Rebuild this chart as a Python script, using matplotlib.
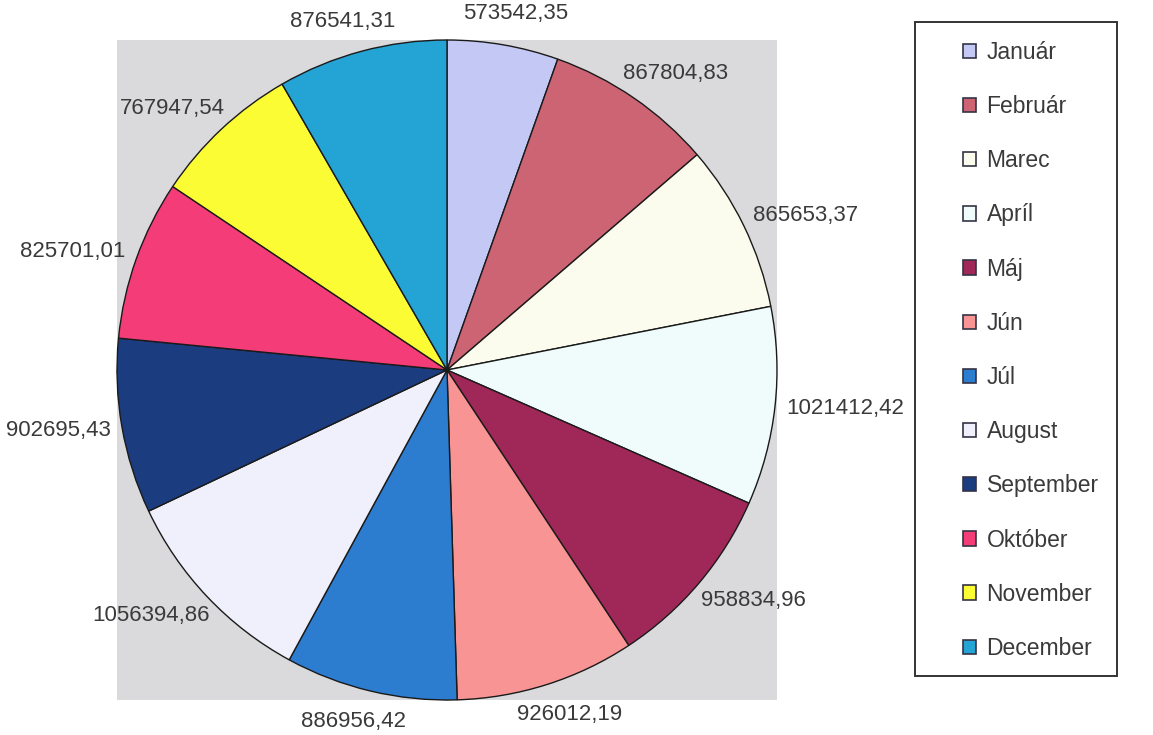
#!/usr/bin/env python3
"""Monthly totals as a pie chart with value labels and a month legend."""

import numpy as np
import matplotlib
matplotlib.use("Agg")
import matplotlib.pyplot as plt
import matplotlib.transforms as mtransforms
from matplotlib.patches import Rectangle

months = ["Január", "Február", "Marec", "Apríl", "Máj", "Jún",
          "Júl", "August", "September", "Október", "November", "December"]
values = [573542.35, 867804.83, 865653.37, 1021412.42, 958834.96, 926012.19,
          886956.42, 1056394.86, 902695.43, 825701.01, 767947.54, 876541.31]
colors = ["#c4c8f4", "#cc6474", "#fcfcee", "#f0fcfc", "#a02858", "#f89494",
          "#2c7cd0", "#f0f0fc", "#1c3c80", "#f43c78", "#fcfc34", "#24a4d4"]

# values written with a decimal comma
value_labels = [f"{v:.2f}".replace(".", ",") for v in values]

plt.rcParams["font.family"] = ["Liberation Sans", "DejaVu Sans"]
W, H = 1153, 735
fig = plt.figure(figsize=(W / 100, H / 100), dpi=100)
ax = fig.add_axes([117 / W, 35 / H, 660 / W, 660 / H])

wedges, _ = ax.pie(
    values,
    colors=colors,
    startangle=90,
    counterclock=False,
    frame=True,
    wedgeprops=dict(edgecolor="#1a1a1a", linewidth=1.0),
)

ax.set_xlim(-1.0, 1.0)
ax.set_ylim(-1.0, 1.0)
ax.set_aspect("equal")
ax.set_facecolor("#dadadc")
ax.set_xticks([])
ax.set_yticks([])
for sp in ax.spines.values():
    sp.set_visible(False)

# value labels just outside each wedge; the text box is pushed outward
# along the wedge direction so its near side sits on the label ring,
# which is a little wider at top and bottom than at the sides
renderer = fig.canvas.get_renderer()
for w, lab in zip(wedges, value_labels):
    ang = np.deg2rad((w.theta1 + w.theta2) / 2)
    c, s = np.cos(ang), np.sin(ang)
    r = 1.03 + 0.04 * abs(s)
    t = ax.text(r * c, r * s, lab, ha="center", va="center",
                fontsize=16, color="#3a3a3a", clip_on=False)
    bb = t.get_window_extent(renderer)
    t.set_transform(mtransforms.offset_copy(
        ax.transData, fig, x=c * bb.width / 2, y=s * bb.height / 2 * 0.8,
        units="dots"))

handles = [Rectangle((0, 0), 1, 1, facecolor=c, edgecolor="#333344", linewidth=1.2)
           for c in colors]
leg = fig.legend(
    handles, months,
    loc="upper left",
    bbox_to_anchor=(963 / W, 1 - 41 / H),
    frameon=False,
    fontsize=16.5,
    labelspacing=1.36,
    handlelength=0.58,
    handleheight=0.58,
    handletextpad=0.45,
    borderpad=0.0,
    borderaxespad=0.0,
    labelcolor="#3a3a3a",
)

# legend box drawn separately: wide left margin, tight right margin
fig.patches.append(Rectangle(
    (915 / W, 1 - 676 / H), (1117 - 915) / W, (676 - 22) / H,
    transform=fig.transFigure, fill=False, edgecolor="#333333", linewidth=1.4))

fig.savefig("out.png", dpi=100, facecolor="white")
